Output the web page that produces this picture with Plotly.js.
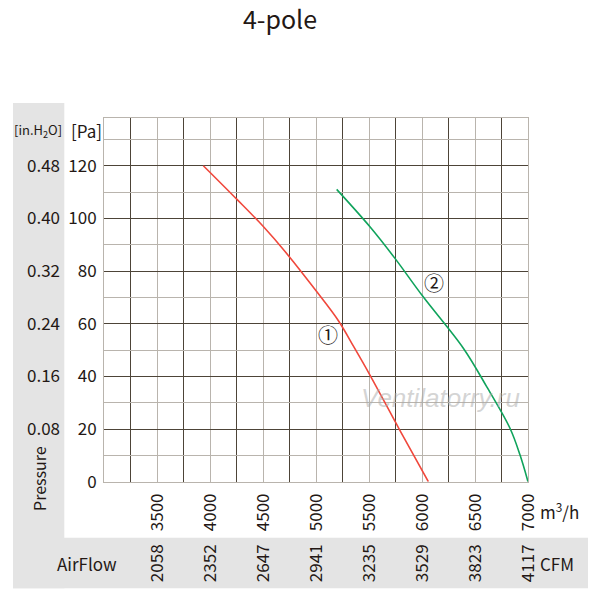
<!DOCTYPE html>
<html>
<head>
<meta charset="utf-8">
<script src="https://cdn.plot.ly/plotly-3.0.1.min.js"></script>
<style>html,body{margin:0;padding:0;background:#fff}#chart{width:600px;height:600px}</style>
</head>
<body>
<div id="chart"></div>
<script>
// ---- data ----
const airflowTicks = [3500, 4000, 4500, 5000, 5500, 6000, 6500, 7000];
const airflowTickText = ['3500', '4000', '4500', '5000', '5500', '6000', '6500', '7000'];
const cfmTickText = ['2058', '2352', '2647', '2941', '3235', '3529', '3823', '4117'];
const paTicks = [0, 20, 40, 60, 80, 100, 120];
const inH2OTicks = [0.08, 0.16, 0.24, 0.32, 0.40, 0.48];
const inH2OTickText = ['0.08', '0.16', '0.24', '0.32', '0.40', '0.48'];

const curve1X = [3937, 4252, 4503, 4708, 5006, 5210, 5360, 5509, 5786, 6060];
const curve1Y = [120, 107.3, 96.9, 87.4, 72.2, 61.2, 51.0, 40.5, 19.9, 0];
const curve2X = [5195, 5509, 5745, 6004, 6390, 6610, 6830, 6925, 7000];
const curve2Y = [111, 96.8, 84.8, 70.6, 50.7, 36.1, 20.3, 10.1, 0];

const FONT = '"Noto Sans CJK JP", "Noto Sans", sans-serif';
const INK = '#231815';
const DARK = '#4d4438';
const LIGHT = '#b9b4ad';

const traces = [
  {x: curve1X, y: curve1Y, type: 'scatter', mode: 'lines',
   line: {color: '#f0483c', width: 1.6, shape: 'spline', smoothing: 1}, hoverinfo: 'skip'},
  {x: curve2X, y: curve2Y, type: 'scatter', mode: 'lines',
   line: {color: '#10a35c', width: 1.6, shape: 'spline', smoothing: 1}, hoverinfo: 'skip'},
  // empty traces so the secondary (CFM / in.H2O) axes get drawn
  {x: [], y: [], type: 'scatter', mode: 'lines', xaxis: 'x2', yaxis: 'y', hoverinfo: 'skip'},
  {x: [], y: [], type: 'scatter', mode: 'lines', xaxis: 'x', yaxis: 'y2', hoverinfo: 'skip'}
];

const layout = {
  width: 600, height: 600,
  margin: {l: 0, r: 0, t: 0, b: 0},
  paper_bgcolor: '#ffffff',
  plot_bgcolor: 'rgba(0,0,0,0)',
  showlegend: false,
  font: {family: FONT, color: INK, size: 17},
  title: {text: '4-pole', x: 280/600, xanchor: 'center', y: 1 - 20/600, yanchor: 'middle',
          font: {family: FONT, size: 25, color: INK}},
  xaxis: {
    domain: [104/600, 528/600], range: [3000, 7000],
    tickmode: 'array', tickvals: airflowTicks, ticktext: airflowTickText,
    tickangle: -90, ticks: '', ticklabelstandoff: 4,
    tickfont: {size: 17, color: INK, family: FONT},
    showgrid: true, gridcolor: LIGHT, gridwidth: 1,
    minor: {tickmode: 'linear', tick0: 3250, dtick: 500, showgrid: true, gridcolor: DARK, gridwidth: 1, ticks: ''},
    showline: true, linecolor: LIGHT, linewidth: 1, mirror: true, zeroline: false, fixedrange: true
  },
  yaxis: {
    domain: [1 - 481.7/600, 1 - 118.3/600], range: [0, 138],
    tickmode: 'array', tickvals: paTicks, ticktext: paTicks.map(String),
    ticks: '', ticklabelstandoff: 3,
    tickfont: {size: 17, color: INK, family: FONT},
    showgrid: true, gridcolor: DARK, gridwidth: 1,
    minor: {tickmode: 'linear', tick0: 10, dtick: 20, showgrid: true, gridcolor: LIGHT, gridwidth: 1, ticks: ''},
    showline: true, linecolor: LIGHT, linewidth: 1, mirror: true,
    zeroline: true, zerolinecolor: DARK, zerolinewidth: 1, fixedrange: true
  },
  xaxis2: {
    overlaying: 'x', anchor: 'free', position: 1 - 540/600, side: 'bottom',
    range: [3000, 7000], tickmode: 'array', tickvals: airflowTicks, ticktext: cfmTickText,
    tickangle: -90, ticks: '', showgrid: false, showline: false, zeroline: false,
    tickfont: {size: 17, color: INK, family: FONT}, fixedrange: true
  },
  yaxis2: {
    overlaying: 'y', anchor: 'free', position: 60/600, side: 'left',
    range: [0, 138/250], tickmode: 'array', tickvals: inH2OTicks, ticktext: inH2OTickText,
    ticks: '', showgrid: false, showline: false, zeroline: false,
    tickfont: {size: 17, color: INK, family: FONT}, fixedrange: true
  },
  shapes: [
    {type: 'rect', xref: 'paper', yref: 'paper', x0: 13/600, x1: 64.3/600, y0: 1 - 588.3/600, y1: 1 - 103/600,
     fillcolor: '#e4e4e4', line: {width: 0}, layer: 'below'},
    {type: 'rect', xref: 'paper', yref: 'paper', x0: 13/600, x1: 588/600, y0: 1 - 588.3/600, y1: 1 - 537.7/600,
     fillcolor: '#e4e4e4', line: {width: 0}, layer: 'below'}
  ],
  annotations: [
    {xref: 'paper', yref: 'paper', x: 38/600, y: 1 - 131/600, text: '[in.H<sub>2</sub>O]', showarrow: false,
     font: {size: 13, color: INK, family: FONT}, xanchor: 'center', yanchor: 'middle'},
    {xref: 'paper', yref: 'paper', x: 86/600, y: 1 - 131/600, text: '[Pa]', showarrow: false,
     font: {size: 17, color: INK, family: FONT}, xanchor: 'center', yanchor: 'middle'},
    {xref: 'paper', yref: 'paper', x: 39/600, y: 1 - 479/600, text: 'Pressure', showarrow: false, textangle: -90,
     font: {size: 16, color: INK, family: FONT}, xanchor: 'center', yanchor: 'middle'},
    {xref: 'paper', yref: 'paper', x: 87/600, y: 1 - 563/600, text: 'AirFlow', showarrow: false,
     font: {size: 17, color: INK, family: FONT}, xanchor: 'center', yanchor: 'middle'},
    {xref: 'paper', yref: 'paper', x: 538/600, y: 1 - 511/600, text: 'm<sup>3</sup>/h', showarrow: false,
     font: {size: 17, color: INK, family: FONT}, xanchor: 'left', yanchor: 'middle'},
    {xref: 'paper', yref: 'paper', x: 538/600, y: 1 - 563/600, text: 'CFM', showarrow: false,
     font: {size: 17, color: INK, family: FONT}, xanchor: 'left', yanchor: 'middle'},
    {xref: 'x', yref: 'y', x: 5113, y: 56.0, text: '①', showarrow: false,
     font: {size: 20, color: INK, family: FONT}, xanchor: 'center', yanchor: 'middle'},
    {xref: 'x', yref: 'y', x: 6110, y: 75.5, text: '②', showarrow: false,
     font: {size: 20, color: INK, family: FONT}, xanchor: 'center', yanchor: 'middle'},
    {xref: 'x', yref: 'y', x: 6170, y: 31.7, text: 'Ventilatorry.ru', showarrow: false,
     font: {size: 26, color: 'rgba(170,170,170,0.5)', family: '"Liberation Sans", sans-serif', style: 'italic'},
     xanchor: 'center', yanchor: 'middle'}
  ]
};

Plotly.newPlot('chart', traces, layout, {staticPlot: true, displayModeBar: false});
</script>
</body>
</html>
